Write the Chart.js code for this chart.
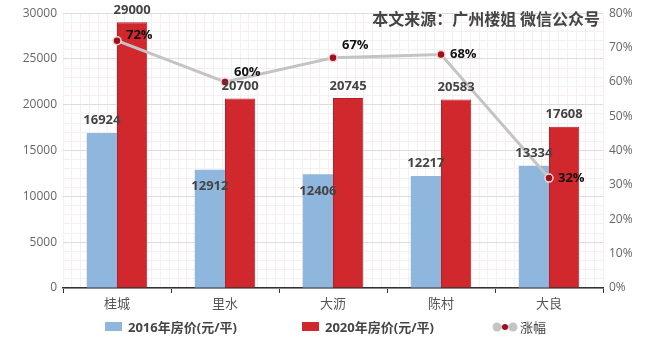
<!DOCTYPE html>
<html>
<head>
<meta charset="utf-8">
<script src="https://cdn.jsdelivr.net/npm/chart.js@4"></script>
<style>
  html, body { margin: 0; padding: 0; background: #fff; }
  #wrap { position: relative; width: 660px; height: 339px; }
  #source {
    position: absolute; right: 60px; top: 6px;
    font: bold 16px "Noto Sans CJK SC", sans-serif; color: #444;
  }
  .leyenda {
    position: absolute; top: 317px; display: flex; align-items: center;
    font: bold 13px "Open Sans", "Noto Sans CJK SC", sans-serif; color: #444;
  }
  .caja { width: 17px; height: 9px; margin-right: 6px; }
</style>
</head>
<body>
<div id="wrap">
  <canvas id="precios-grafica" width="660" height="339"></canvas>
  <div id="source">本文来源：广州楼姐 微信公众号</div>
  <div class="leyenda" style="left:105px"><span class="caja" style="background:#8fb6dd"></span>2016年房价(元/平)</div>
  <div class="leyenda" style="left:302px"><span class="caja" style="background:#d0282d"></span>2020年房价(元/平)</div>
  <div class="leyenda" style="left:491px;font-weight:normal">
    <svg width="28" height="12" style="margin-right:1px">
      <line x1="5" y1="6" x2="23" y2="6" stroke="#c4c4c4" stroke-width="3"/>
      <circle cx="6" cy="6" r="4.5" fill="#c4c4c4"/>
      <circle cx="22" cy="6" r="4.5" fill="#c4c4c4"/>
      <circle cx="14" cy="6" r="3" fill="#a00f1b"/>
    </svg>涨幅
  </div>
</div>
<script>
(() => {
    const zonas = ['桂城', '里水', '大沥', '陈村', '大良'];
    const precio2016 = [16924, 12912, 12406, 12217, 13334];
    const precio2020 = [29000, 20700, 20745, 20583, 17608];
    const subida = [72, 60, 67, 68, 32];

    // estilo de etiquetas
    const dentro2016 = [false, true, true, false, false];
    const dySubida = [-5, -10, -13, 0, 0];

    const fuente = '"Open Sans", "Noto Sans CJK SC", sans-serif';

    const etiquetas = {
        id: 'etiquetas',
        afterDatasetsDraw(chart) {
            const ctx = chart.ctx;
            ctx.save();
            ctx.font = `bold 13px ${fuente}`;
            ctx.textBaseline = 'middle';
            ctx.textAlign = 'center';
            ctx.fillStyle = '#444';
            chart.getDatasetMeta(0).data.forEach((barra, i) => {
                const y = dentro2016[i] ? barra.y + 17 : barra.y - 13;
                ctx.fillText(precio2016[i], barra.x, y);
            });
            chart.getDatasetMeta(1).data.forEach((barra, i) => {
                ctx.fillText(precio2020[i], barra.x, barra.y - 12);
            });
            ctx.textAlign = 'left';
            ctx.fillStyle = '#111';
            chart.getDatasetMeta(2).data.forEach((punto, i) => {
                ctx.fillText(subida[i] + '%', punto.x + 9, punto.y + dySubida[i]);
            });
            ctx.restore();
        }
    };

    const ctx = document.getElementById('precios-grafica').getContext('2d');
    new Chart(ctx, {
        type: 'bar',
        data: {
            labels: zonas,
            datasets: [{
                label: '2016年房价(元/平)',
                data: precio2016,
                backgroundColor: '#8fb6dd',
                barPercentage: 1,
                categoryPercentage: 0.56,
                order: 1
            }, {
                label: '2020年房价(元/平)',
                data: precio2020,
                backgroundColor: '#d0282d',
                borderColor: '#b81f24',
                borderWidth: 1,
                barPercentage: 1,
                categoryPercentage: 0.56,
                order: 1
            }, {
                type: 'line',
                label: '涨幅',
                data: subida,
                yAxisID: 'y1',
                borderColor: '#c4c4c4',
                borderWidth: 3,
                pointRadius: 4,
                pointBackgroundColor: '#a00f1b',
                pointBorderColor: '#f3d6d6',
                pointBorderWidth: 1.5,
                order: 0
            }]
        },
        options: {
            responsive: false,
            animation: false,
            layout: { padding: { top: 13, bottom: 25, left: 0, right: 0 } },
            scales: {
                x: {
                    grid: { offset: true, drawOnChartArea: false, color: '#333', tickLength: 5 },
                    border: { color: '#333', width: 1.5 },
                    ticks: { color: '#555', font: { size: 13, family: fuente }, padding: 3 },
                    afterFit: s => { s.height = 26; }
                },
                xg: {
                    type: 'linear',
                    position: 'top',
                    min: 0,
                    max: 60,
                    ticks: { display: false, stepSize: 1 },
                    grid: { color: '#f5eff4', drawTicks: false },
                    border: { display: false }
                },
                y: {
                    min: 0,
                    max: 30000,
                    ticks: {
                        stepSize: 1000,
                        autoSkip: false,
                        color: '#666',
                        padding: 6,
                        font: { size: 12, family: fuente },
                        callback: v => (v % 5000 === 0 ? v : '')
                    },
                    grid: {
                        drawTicks: false,
                        color: c => (c.tick && c.tick.value % 5000 === 0 ? '#dddddd' : '#f5eff4')
                    },
                    border: { display: false },
                    afterFit: s => { s.width = 63; }
                },
                y1: {
                    position: 'right',
                    min: 0,
                    max: 80,
                    ticks: {
                        stepSize: 10,
                        color: '#666',
                        padding: 6,
                        font: { size: 12, family: fuente },
                        callback: v => v + '%'
                    },
                    grid: { drawOnChartArea: false, drawTicks: false },
                    border: { display: false },
                    afterFit: s => { s.width = 57; }
                }
            },
            plugins: {
                legend: { display: false },
                tooltip: { enabled: false }
            }
        },
        plugins: [etiquetas]
    });
})()
</script>
</body>
</html>
